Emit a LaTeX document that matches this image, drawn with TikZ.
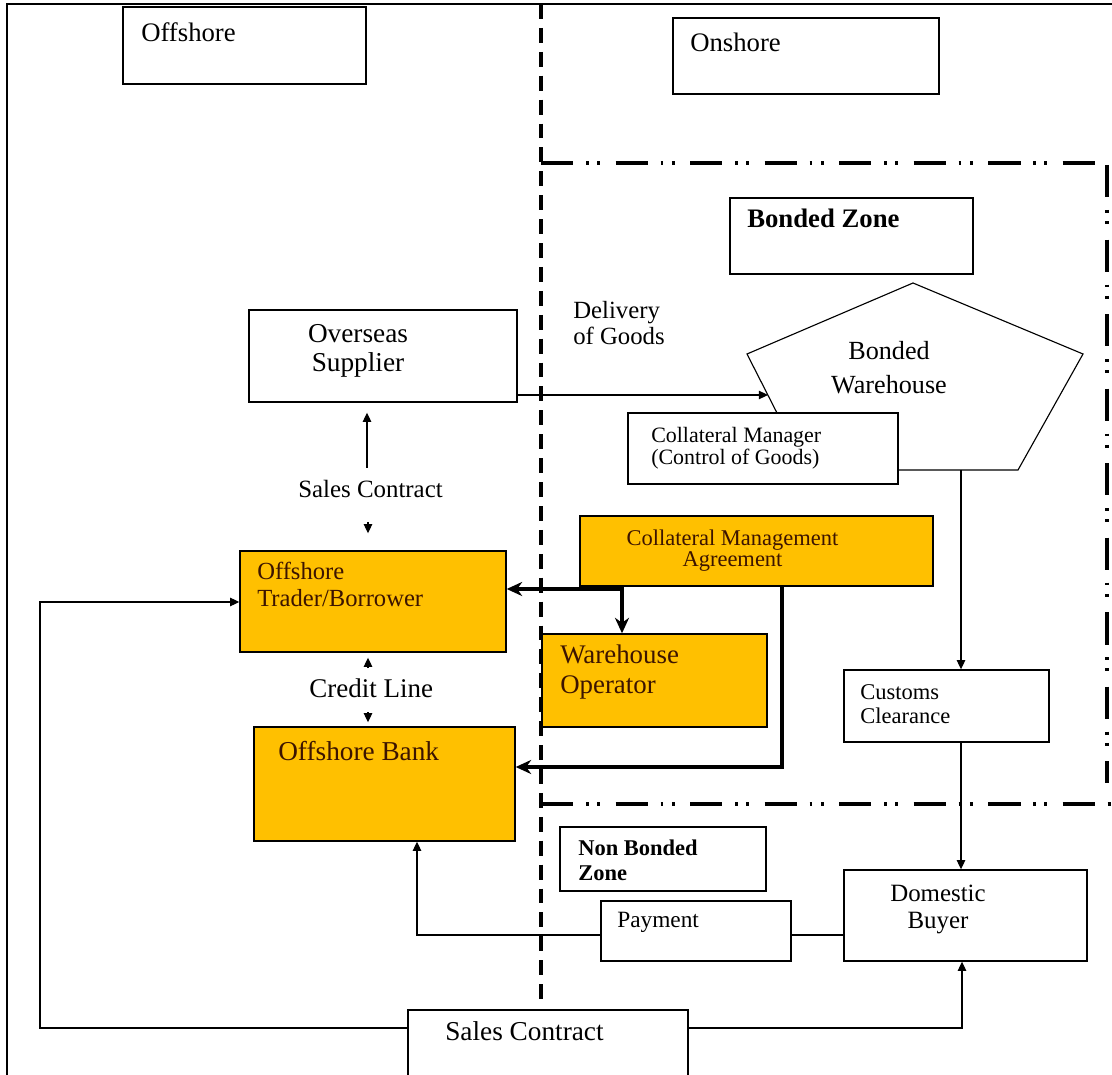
\documentclass[tikz,border=0pt]{standalone}
\usepackage{fontspec}
\setmainfont{Liberation Serif}
\usetikzlibrary{arrows.meta,calc}

\definecolor{boxgold}{RGB}{255,192,0}
\definecolor{goldtext}{RGB}{60,20,0}
\newdimen\pxu \pxu=0.025cm
\newcommand{\fsz}[2]{\fontsize{#1pt}{#2pt}\selectfont}

\begin{document}
\begin{tikzpicture}[%
        x=0.025cm, y=-0.025cm,
        >={Triangle[length=6.5pt,width=6pt]},
        box/.style={draw, line width=1pt, fill=white, inner sep=0pt},
        goldbox/.style={box, fill=boxgold},
        size/.style 2 args={minimum width=#1\pxu, minimum height=#2\pxu},
        lbl/.style={inner sep=0pt, anchor=base west, align=left},
        clbl/.style={inner sep=0pt, anchor=base, align=center},
        link/.style={line width=0.8pt},
        fat/.style={line width=2.8pt},
        fattip/.style={-{Stealth[length=11pt,width=10pt]}},
        zone/.style={line width=2.3pt, dash pattern=on 10.6pt off 6.4pt},
        bond/.style={line width=2.5pt, dash pattern=on 23pt off 9pt on 2pt off 6pt on 2pt off 11pt}
        ]

        \useasboundingbox (0,0) rectangle (1112,1075);
        \clip (0,0) rectangle (1112,1075);

        % frame and zone borders
        \draw[line width=1pt] (7,1075) -- (7,4) -- (1112,4);
        \draw[zone] (541,4) -- (541,1003);
        \draw[bond] (541,163) -- (1097,163);
        \draw[bond] (1107,165) -- (1107,783);
        \draw[bond] (541,804) -- (1112,804);

        % bonded warehouse
        \draw[link] (913,283) -- (1083,354) -- (1018,470) -- (806,470) -- (747,354) -- cycle;
        \coordinate (wh-in) at (768,395);
        \coordinate (wh-out) at (961,470);

        % boxes
        \node[box, size={243}{77}] (off) at (244.5,45.5) {};
        \node[box, size={266}{76}] (on) at (806,56) {};
        \node[box, size={243}{76}] (bz) at (851.5,236) {};
        \node[box, size={268}{92}] (sup) at (383,356) {};
        \node[box, size={270}{71}] (cm) at (763,448.5) {};
        \node[goldbox, size={353}{70}] (cma) at (756.5,551) {};
        \node[goldbox, size={266}{101}] (tr) at (373,601.5) {};
        \node[goldbox, size={225}{93}] (wo) at (654.5,680.5) {};
        \node[goldbox, size={261}{114}] (bank) at (384.5,784) {};
        \node[box, size={205}{72}] (cc) at (946.5,706) {};
        \node[box, size={206}{64}] (nbz) at (663,859) {};
        \node[box, size={190}{60}] (pay) at (696,931) {};
        \node[box, size={243}{91}] (db) at (965.5,915.5) {};
        \node[box, size={280}{75}] (sc) at (548,1047.5) {};

        % texts (multi-line ones sit on their last baseline)
        \node[lbl, font=\fsz{19}{22}] (off-t) at (141,42) {Offshore};
        \node[lbl, font=\fsz{19}{22}] (on-t) at (690,52) {Onshore};
        \node[lbl, font=\fsz{19}{22}\bfseries] (bz-t) at (747,228) {Bonded Zone};
        \node[lbl, font=\fsz{17.6}{19}] (del-t) at (573,345) {Delivery\\of Goods};
        \node[clbl, font=\fsz{19.4}{21.3}] (sup-t) at (358,372) {Overseas\\Supplier};
        \node[clbl, font=\fsz{18.6}{24.8}] (wh) at (889,394) {Bonded\\Warehouse};
        \node[lbl, font=\fsz{15.6}{16.3}] (cm-t) at (651,465) {Collateral Manager\\(Control of Goods)};
        \node[clbl, font=\fsz{16}{15}, text=goldtext] (cma-t) at (732.5,567) {Collateral Management\\Agreement};
        \node[lbl, font=\fsz{17.7}{20}] (sc-mid) at (298,498) {Sales Contract};
        \node[lbl, font=\fsz{17.5}{19.9}, text=goldtext] (tr-t) at (257,607) {Offshore\\Trader/Borrower};
        \node[lbl, font=\fsz{19.2}{22}] (cl) at (309,697) {Credit Line};
        \node[lbl, font=\fsz{19.4}{22}, text=goldtext] (bank-t) at (278,760) {Offshore Bank};
        \node[lbl, font=\fsz{19.1}{21.3}, text=goldtext] (wo-t) at (560,693) {Warehouse\\Operator};
        \node[lbl, font=\fsz{16}{17}] (cc-t) at (860,723) {Customs\\Clearance};
        \node[lbl, font=\fsz{16}{17.7}\bfseries] (nbz-t) at (578,880) {Non Bonded\\Zone};
        \node[lbl, font=\fsz{16.6}{19}] (pay-t) at (617,927) {Payment};
        \node[clbl, font=\fsz{17.7}{19}] (db-t) at (938,928) {Domestic\\Buyer};
        \node[lbl, font=\fsz{19.4}{22}] (sc-t) at (445,1040) {Sales Contract};

        % thin connectors
        \coordinate (cx) at (368,0);
        \draw[link, ->] (sup.east |- wh-in) -- (wh-in);
        \draw[link, ->, shorten >=10\pxu] (367,468) -- (sup.south -| 367,0);
        \draw[link, ->, shorten >=17\pxu] (368,522) -- (tr.north -| cx);
        \draw[link, ->, shorten >=5\pxu] (368,668) -- (tr.south -| cx);
        \draw[link, ->, shorten >=4\pxu] (368,712) -- (bank.north -| cx);
        \draw[link, ->] (wh-out) -- (cc.north -| wh-out);
        \draw[link, ->] (cc.south -| wh-out) -- (db.north -| wh-out);

        \coordinate (pb) at (417,935);
        \draw[link] (pay.east |- pb) -- (db.west |- pb);
        \draw[link, ->] (pay.west |- pb) -- (pb) -- (bank.south -| pb);

        \coordinate (sc-l) at (40,1028);
        \coordinate (sc-u) at (40,602);
        \coordinate (sc-r) at (962,1028);
        \draw[link, ->] (sc.west |- sc-l) -- (sc-l) -- (sc-u) -- (tr.west |- sc-u);
        \draw[link, ->] (sc.east |- sc-r) -- (sc-r) -- (db.south -| sc-r);

        % thick connectors from the agreement
        \coordinate (j) at (622,589);
        \coordinate (k) at (782,767);
        \draw[fat, fattip] (j) -- (tr.east |- j);
        \draw[fat, fattip] (cma.south -| j) -- (wo.north -| j);
        \draw[fat, fattip] (cma.south -| k) -- (k) -- (bank.east |- k);

\end{tikzpicture}
\end{document}
